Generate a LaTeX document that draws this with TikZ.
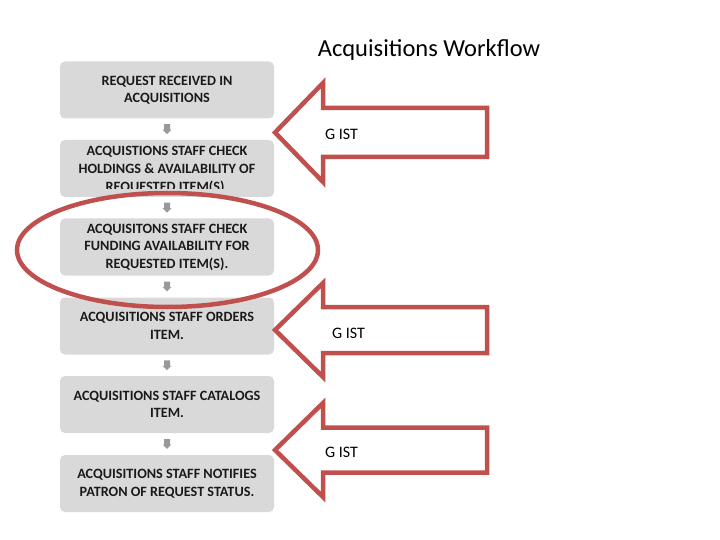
\documentclass[tikz,border=0pt]{standalone}
\usepackage{fontspec}
\setmainfont{Carlito}
\usetikzlibrary{calc}
\definecolor{boxgray}{HTML}{D9D9D9}
\definecolor{smallarrow}{HTML}{999999}
\definecolor{redline}{HTML}{C0504D}
\definecolor{boxtext}{HTML}{1A1A1A}
\tikzset{
  stepbox/.style={rectangle, rounded corners=5pt, fill=boxgray, minimum width=214pt,
    minimum height=57pt, inner sep=0pt, align=center, text=boxtext,
    font=\fontsize{14.2}{17.5}\selectfont\bfseries},
  downarrow/.style={fill=smallarrow, draw=none},
  bigarrow/.style={draw=redline, line width=4.5pt, fill=white, line join=miter},
  gist/.style={font=\fontsize{16}{19}\selectfont, anchor=west, inner sep=0pt},
}
\newcommand\gistarrow[3]{%
  \draw[bigarrow] (275,#1) -- (323,#1-#2) -- (323,#1-#3) -- (487,#1-#3) -- (487,#1+#3)
    -- (323,#1+#3) -- (323,#1+#2) -- cycle;}
\newcommand\smalldown[2]{%
  \coordinate (#1) at ($(#2)$);
  \fill[downarrow] (#1) ++(-3,-5) -- ++(6,0) -- ++(0,5.5) -- ++(1.3,0) -- ++(-4.3,4.5)
    -- ++(-4.3,-4.5) -- ++(1.3,0) -- cycle;}
\begin{document}
\begin{tikzpicture}[x=1pt,y=-1pt]
\useasboundingbox (0,0) rectangle (720,540);
\node[font=\fontsize{24.5}{28}\selectfont] (title) at (429,50) {Acquisitions Workflow};

\node[stepbox] (b1) at (167,90) {REQUEST RECEIVED  IN\\ACQUISITIONS};
\node[stepbox] (b2) at (167,168.5) {};
\begin{scope}
  \clip (60,140) rectangle (274,188.5);
  \node[stepbox, fill=none, font=\fontsize{14.2}{18}\selectfont\bfseries] (b2t) at (167,169.5) {ACQUISTIONS STAFF CHECK\\HOLDINGS \& AVAILABILITY  OF\\REQUESTED ITEM(S).};
\end{scope}
\node[stepbox] (b3) at (167,247) {ACQUISITONS STAFF  CHECK\\FUNDING AVAILABILITY  FOR\\REQUESTED ITEM(S).};
\node[stepbox] (b4) at (167,326) {ACQUISITIONS STAFF ORDERS\\ITEM.};
\node[stepbox] (b5) at (167,404.5) {ACQUISITIONS STAFF  CATALOGS\\ITEM.};
\node[stepbox] (b6) at (167,483.5) {ACQUISITIONS STAFF NOTIFIES\\PATRON OF REQUEST STATUS.};

\smalldown{a12}{$(b1.south)!.5!(b2.north)$}
\smalldown{a23}{$(b2.south)!.5!(b3.north)$}
\smalldown{a34}{$(b3.south)!.5!(b4.north)$}
\smalldown{a45}{$(b4.south)!.5!(b5.north)$}
\smalldown{a56}{$(b5.south)!.5!(b6.north)$}

\draw[draw=redline, line width=4.5pt] (167.5,250) ellipse [x radius=150.5, y radius=57];

\gistarrow{132.5}{49.5}{24.5}
\node[gist] (g1) at (325,134) {G IST};
\gistarrow{330}{47}{23}
\node[gist] (g2) at (332,333) {G IST};
\gistarrow{450}{47}{22.5}
\node[gist] (g3) at (325,452) {G IST};
\end{tikzpicture}
\end{document}
